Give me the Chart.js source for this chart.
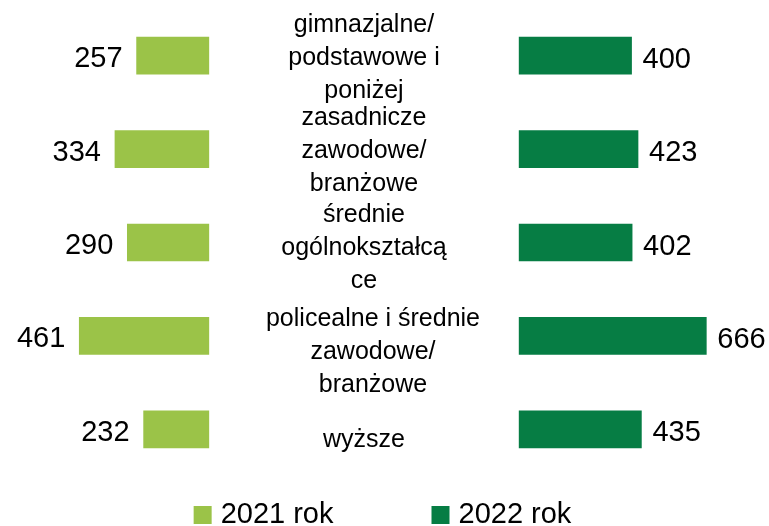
<!DOCTYPE html>
<html lang="pl">
<head>
    <meta charset="UTF-8">
    <title>Wykształcenie 2021 / 2022</title>
    <script src="https://cdn.jsdelivr.net/npm/chart.js"></script>
    <style>
        html, body { margin: 0; padding: 0; background: #fff; }
        #wrap { width: 769px; height: 526px; position: relative; }
    </style>
</head>
<body>
<div id="wrap"><canvas id="chart"></canvas></div>
<script>
    // categories (one entry per row, split into the lines shown in the middle)
    var categories = [
        ['gimnazjalne/', 'podstawowe i', 'poniżej'],
        ['zasadnicze', 'zawodowe/', 'branżowe'],
        ['średnie', 'ogólnokształcą', 'ce'],
        ['policealne i średnie', 'zawodowe/', 'branżowe'],
        ['wyższe']
    ];
    var values2021 = [257, 334, 290, 461, 232];
    var values2022 = [400, 423, 402, 666, 435];
    var seriesNames = ['2021 rok', '2022 rok'];

    // layout: half of the empty middle band, in axis units
    var GAP = 552;
    var labelShiftY = [3, 2, 6, 17, 11];
    var labelShiftX = [0, 0, 0, 9, 0];

    var LIGHT = '#9bc348';
    var DARK = '#067d44';
    var FONT = '"Liberation Sans", Arial, sans-serif';

    var middleLabels = {
        id: 'middleLabels',
        afterDatasetsDraw: function(chart) {
            var ctx = chart.ctx;
            var x = chart.scales.x;
            var y = chart.scales.y;
            var cx = x.getPixelForValue(0);
            ctx.save();
            ctx.fillStyle = '#000';
            ctx.textBaseline = 'alphabetic';

            // category text in the middle (x-height centred on the line position)
            ctx.font = '25px ' + FONT;
            ctx.textAlign = 'center';
            categories.forEach(function(lines, i) {
                var yc = y.getPixelForValue(i) + labelShiftY[i];
                var lh = 33;
                var start = yc - (lines.length - 1) * lh / 2;
                lines.forEach(function(t, j) {
                    ctx.fillText(t, cx + labelShiftX[i], start + j * lh + 6.5);
                });
            });

            // values (digits centred on the bar)
            ctx.font = '29px ' + FONT;
            chart.getDatasetMeta(0).data.forEach(function(bar, i) {
                ctx.textAlign = 'right';
                ctx.fillText(values2021[i], Math.min(bar.x, bar.base) - 14, bar.y + 11.5);
            });
            chart.getDatasetMeta(1).data.forEach(function(bar, i) {
                ctx.textAlign = 'left';
                ctx.fillText(values2022[i], Math.max(bar.x, bar.base) + 11, bar.y + 12);
            });

            // legend under the plot
            ctx.textBaseline = 'middle';
            var ds = chart.data.datasets;
            var box = 18, gapText = 9, spacing = 98;
            var widths = ds.map(function(d) { return box + gapText + ctx.measureText(d.label).width; });
            var total = widths[0] + spacing + widths[1];
            var lx = chart.width / 2 - 2 - total / 2;
            var ly = chart.chartArea.bottom + 39;
            ctx.textAlign = 'left';
            ds.forEach(function(d, i) {
                ctx.fillStyle = d.backgroundColor;
                ctx.fillRect(lx, ly - box / 2, box, box);
                ctx.fillStyle = '#000';
                ctx.fillText(d.label, lx + box + gapText, ly);
                lx += widths[i] + spacing;
            });
            ctx.restore();
        }
    };

    new Chart(document.getElementById('chart'), {
        type: 'bar',
        data: {
            labels: categories.map(function(c) { return c.join(' '); }),
            datasets: [{
                label: seriesNames[0],
                data: values2021.map(function(v) { return [-GAP - v, -GAP]; }),
                backgroundColor: LIGHT
            }, {
                label: seriesNames[1],
                data: values2022.map(function(v) { return [GAP, GAP + v]; }),
                backgroundColor: DARK
            }]
        },
        options: {
            indexAxis: 'y',
            responsive: true,
            maintainAspectRatio: false,
            animation: false,
            grouped: false,
            barThickness: 37,
            layout: { padding: { top: 9, left: 0, right: 0, bottom: 50 } },
            scales: {
                x: { display: false, min: -1295, max: 1441 },
                y: { display: false }
            },
            plugins: {
                tooltip: { enabled: false },
                legend: { display: false }
            }
        },
        plugins: [middleLabels]
    });
</script>
</body>
</html>
